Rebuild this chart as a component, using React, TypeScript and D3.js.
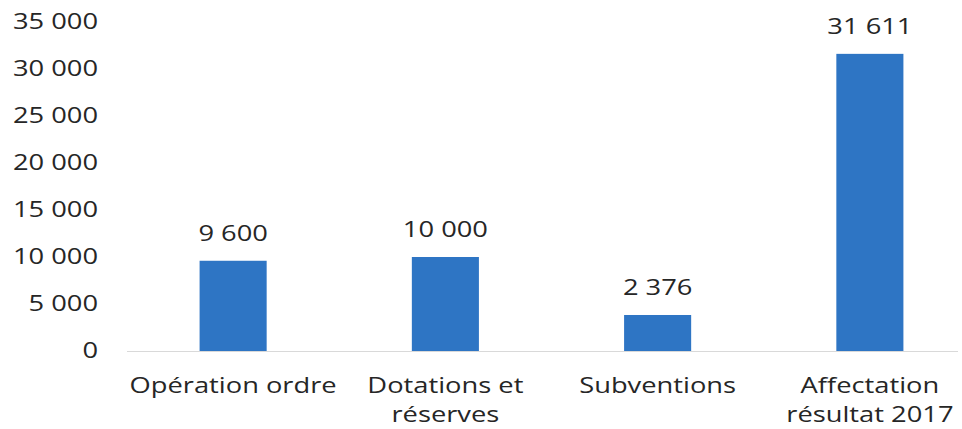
import { useEffect, useRef } from 'react'
import * as d3 from 'd3'

// categories (line breaks as in the picture)
const categories = [
	['Opération ordre'],
	['Dotations et', 'réserves'],
	['Subventions'],
	['Affectation', 'résultat 2017'],
]
// bar heights
const barValues = [9600, 10000, 3830, 31611]
// data labels as printed
const valueLabels = ['9 600', '10 000', '2 376', '31 611']
const yTicks = [0, 5000, 10000, 15000, 20000, 25000, 30000, 35000]

const W = 962
const H = 429

const App = () => {
	const svgRef = useRef(null)

	useEffect(() => {
		const svg = d3.select(svgRef.current)
		svg.selectAll('*').remove()

		const font = "'Open Sans', sans-serif"
		const textColor = '#262626'
		const stretch = 1.3 // the scanned chart is wider than the font

		const x = d3
			.scaleBand()
			.domain(d3.range(categories.length).map(String))
			.range([127, 976])
			.paddingInner(0.684)
			.paddingOuter(0.342)
		const y = d3.scaleLinear().domain([0, 35000]).range([351, 22])

		const fmt = (v) => d3.format(',')(v).replace(/,/g, ' ')

		// baseline
		svg
			.append('line')
			.attr('x1', 127)
			.attr('x2', 958)
			.attr('y1', y(0) + 0.5)
			.attr('y2', y(0) + 0.5)
			.attr('stroke', '#d9d9d9')
			.attr('stroke-width', 1)

		// y axis labels
		svg
			.append('g')
			.selectAll('text')
			.data(yTicks)
			.enter()
			.append('text')
			.attr('transform', (d) => `translate(98,${y(d)}) scale(${stretch},1)`)
			.attr('dy', '0.35em')
			.attr('text-anchor', 'end')
			.style('font-family', font)
			.style('font-size', '21px')
			.style('fill', textColor)
			.text((d) => fmt(d))

		// bars
		svg
			.append('g')
			.selectAll('rect')
			.data(barValues)
			.enter()
			.append('rect')
			.attr('x', (d, i) => x(String(i)))
			.attr('y', (d) => y(d))
			.attr('width', x.bandwidth())
			.attr('height', (d) => y(0) - y(d))
			.attr('fill', '#2e75c4')

		// value labels
		svg
			.append('g')
			.selectAll('text')
			.data(barValues)
			.enter()
			.append('text')
			.attr(
				'transform',
				(d, i) => `translate(${x(String(i)) + x.bandwidth() / 2},${y(d) - 20}) scale(${stretch},1)`
			)
			.attr('text-anchor', 'middle')
			.style('font-family', font)
			.style('font-size', '21px')
			.style('fill', textColor)
			.text((d, i) => valueLabels[i])

		// category labels
		const cat = svg
			.append('g')
			.selectAll('text')
			.data(categories)
			.enter()
			.append('text')
			.attr('transform', (d, i) => `translate(${x(String(i)) + x.bandwidth() / 2},393) scale(${stretch},1)`)
			.attr('text-anchor', 'middle')
			.style('font-family', font)
			.style('font-size', '21px')
			.style('fill', textColor)

		cat
			.selectAll('tspan')
			.data((d) => d)
			.enter()
			.append('tspan')
			.attr('x', 0)
			.attr('dy', (d, i) => (i === 0 ? 0 : 29))
			.text((d) => d)
	}, [])

	return (
		<div style={{ position: 'absolute', left: 0, top: 0 }}>
			<svg ref={svgRef} width={W} height={H} style={{ display: 'block', background: '#fff' }}></svg>
		</div>
	)
}

export default App
